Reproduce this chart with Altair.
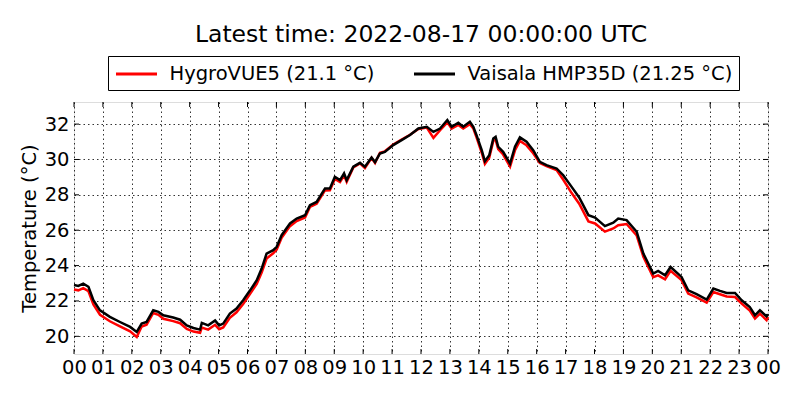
import altair as alt
import pandas as pd

hours = [0.0, 0.15, 0.32, 0.5, 0.67, 0.9, 1.24, 1.59, 1.94, 2.17, 2.34, 2.51, 2.74, 2.92,
         3.09, 3.43, 3.67, 3.9, 4.13, 4.36, 4.42, 4.64, 4.88, 5.02, 5.16, 5.39, 5.62, 5.85,
         6.09, 6.32, 6.49, 6.66, 6.89, 7.01, 7.18, 7.47, 7.7, 7.99, 8.16, 8.39, 8.68, 8.85,
         9.02, 9.2, 9.34, 9.43, 9.66, 9.89, 10.06, 10.29, 10.41, 10.58, 10.75, 11.04, 11.33,
         11.62, 11.91, 12.2, 12.43, 12.66, 12.91, 13.06, 13.29, 13.46, 13.69, 13.81, 13.92,
         14.1, 14.21, 14.36, 14.5, 14.58, 14.67, 14.84, 15.08, 15.25, 15.42, 15.65, 15.88,
         16.11, 16.34, 16.69, 16.92, 17.21, 17.47, 17.79, 18.02, 18.36, 18.65, 18.82, 19.11,
         19.46, 19.69, 20.03, 20.2, 20.44, 20.63, 21.01, 21.24, 21.53, 21.88, 22.11, 22.34,
         22.57, 22.86, 23.09, 23.37, 23.55, 23.72, 23.95, 24.0]

vaisala = [22.9, 22.85, 22.98, 22.8, 22.04, 21.47, 21.1, 20.81, 20.53, 20.25, 20.72, 20.81,
           21.47, 21.38, 21.19, 21.06, 20.94, 20.62, 20.47, 20.38, 20.76, 20.62, 20.9, 20.62,
           20.72, 21.29, 21.57, 22.04, 22.6, 23.17, 23.83, 24.68, 24.87, 25.06, 25.72, 26.38,
           26.66, 26.85, 27.42, 27.6, 28.36, 28.36, 29.02, 28.83, 29.21, 28.83, 29.59, 29.81,
           29.59, 30.11, 29.85, 30.34, 30.43, 30.81, 31.09, 31.38, 31.75, 31.85, 31.56, 31.75,
           32.23, 31.85, 32.08, 31.85, 32.13, 31.85, 31.38, 30.53, 29.9, 30.24, 31.19, 31.28,
           30.72, 30.43, 29.77, 30.72, 31.25, 31.0, 30.53, 29.87, 29.68, 29.49, 29.11, 28.45,
           27.85, 26.85, 26.72, 26.23, 26.43, 26.66, 26.57, 25.91, 24.68, 23.55, 23.7, 23.45,
           23.92, 23.36, 22.6, 22.38, 22.08, 22.7, 22.57, 22.45, 22.45, 22.04, 21.66, 21.19,
           21.47, 21.13, 21.25]

hygrovue = [22.65, 22.6, 22.72, 22.55, 21.8, 21.22, 20.85, 20.56, 20.28, 19.96, 20.55, 20.66,
            21.32, 21.22, 20.99, 20.86, 20.74, 20.42, 20.27, 20.2, 20.5, 20.38, 20.65, 20.4,
            20.5, 21.05, 21.36, 21.83, 22.4, 22.97, 23.6, 24.4, 24.7, 24.9, 25.57, 26.23,
            26.52, 26.72, 27.32, 27.5, 28.25, 28.26, 28.9, 28.72, 29.1, 28.74, 29.55, 29.78,
            29.52, 30.1, 29.8, 30.38, 30.46, 30.85, 31.13, 31.4, 31.72, 31.8, 31.22, 31.65,
            32.1, 31.75, 31.95, 31.75, 32.0, 31.75, 31.25, 30.38, 29.75, 30.1, 31.05, 31.12,
            30.58, 30.28, 29.6, 30.52, 31.05, 30.8, 30.35, 29.8, 29.62, 29.4, 28.85, 28.1,
            27.5, 26.5, 26.38, 25.92, 26.1, 26.28, 26.35, 25.7, 24.5, 23.35, 23.45, 23.22,
            23.7, 23.18, 22.42, 22.2, 21.9, 22.5, 22.38, 22.25, 22.22, 21.85, 21.45, 21.0,
            21.28, 20.92, 21.1]

series_names = ["HygroVUE5 (21.1 °C)", "Vaisala HMP35D (21.25 °C)"]
series_colors = ["#ff0000", "#000000"]
x_ticks = list(range(0, 25))
y_ticks = [20, 22, 24, 26, 28, 30, 32]
title_text = "Latest time: 2022-08-17 00:00:00 UTC"

rows = []
for h, v in zip(hours, hygrovue):
    rows.append({"hour": h, "temp": v, "series": series_names[0]})
for h, v in zip(hours, vaisala):
    rows.append({"hour": h, "temp": v, "series": series_names[1]})
df = pd.DataFrame(rows)

W, H = 694, 252
FONT = "DejaVu Sans"
FS = 19.5

xscale = alt.Scale(domain=[0, 24], nice=False)
yscale = alt.Scale(domain=[19, 33.25], nice=False, zero=False)

xaxis = alt.Axis(values=x_ticks, title=None, labelFlush=False,
                 labelExpr="datum.value == 24 ? '00' : (datum.value < 10 ? '0' + datum.value : '' + datum.value)",
                 ticks=False, labelPadding=4, domain=False,
                 grid=True, gridDash=[1.5, 3], gridColor="#000000", gridWidth=0.8,
                 labelFontSize=FS, labelFont=FONT, labelColor="#000000")
yaxis = alt.Axis(values=y_ticks, title="Temperature (°C)", ticks=False,
                 labelPadding=5, domain=False, titlePadding=5,
                 grid=True, gridDash=[1.5, 3], gridColor="#000000", gridWidth=0.8,
                 labelFontSize=FS, labelFont=FONT, labelColor="#000000",
                 titleFontSize=FS, titleFont=FONT, titleFontWeight="normal",
                 titleColor="#000000")

lines = alt.Chart(df).mark_line(strokeWidth=2.5).encode(
    x=alt.X("hour:Q", scale=xscale, axis=xaxis),
    y=alt.Y("temp:Q", scale=yscale, axis=yaxis),
    color=alt.Color("series:N",
                    scale=alt.Scale(domain=series_names, range=series_colors),
                    legend=alt.Legend(title=None, orient="none", legendX=34, legendY=-46,
                                      direction="horizontal", columns=2,
                                      symbolType="M-1,0L3.1,0", symbolStrokeWidth=3,
                                      symbolSize=400, labelFontSize=FS, labelFont=FONT,
                                      labelColor="#000000", labelOffset=32, labelLimit=0,
                                      columnPadding=33, padding=6.5,
                                      strokeColor="#000000", fillColor="#ffffff",
                                      cornerRadius=0)),
)

xt = pd.DataFrame({"hour": x_ticks})
yt = pd.DataFrame({"temp": y_ticks})

tick_bottom = alt.Chart(xt).mark_rule(color="black", strokeWidth=1).encode(
    x=alt.X("hour:Q", scale=xscale, axis=xaxis), y=alt.value(H), y2=alt.value(H - 5))
tick_top = alt.Chart(xt).mark_rule(color="black", strokeWidth=1).encode(
    x=alt.X("hour:Q", scale=xscale, axis=xaxis), y=alt.value(0), y2=alt.value(5))
tick_left = alt.Chart(yt).mark_rule(color="black", strokeWidth=1).encode(
    y=alt.Y("temp:Q", scale=yscale, axis=yaxis), x=alt.value(0), x2=alt.value(5))
tick_right = alt.Chart(yt).mark_rule(color="black", strokeWidth=1).encode(
    y=alt.Y("temp:Q", scale=yscale, axis=yaxis), x=alt.value(W), x2=alt.value(W - 5))

chart = alt.layer(lines, tick_bottom, tick_top, tick_left, tick_right).properties(
    width=W, height=H,
    title=alt.TitleParams(title_text, fontSize=23.5, font=FONT, fontWeight="normal",
                          color="#000000", anchor="middle", frame="group", offset=9),
    autosize=alt.AutoSizeParams(type="none"),
    padding={"left": 66, "top": 94, "right": 24, "bottom": 38},
).configure_view(stroke="#000000", strokeWidth=1.5).configure(background="white")

chart.save("out.html", embed_options={"renderer": "svg", "actions": False})
